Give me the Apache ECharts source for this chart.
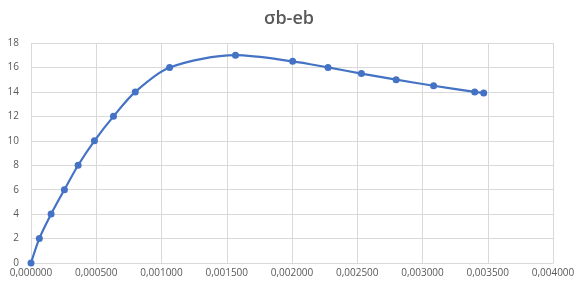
<!DOCTYPE html>
<html>
<head>
<meta charset="utf-8">
<script src="https://cdn.jsdelivr.net/npm/echarts@6/dist/echarts.min.js"></script>
<style>
  html, body { margin: 0; padding: 0; background: #fff; }
  #chart { width: 578px; height: 284px; }
</style>
</head>
<body>
<div id="chart"></div>
<script>
const strain = [0, 0.0000637, 0.000154, 0.000256, 0.000361, 0.000486, 0.000632, 0.000799, 0.001062,
  0.001567, 0.002005, 0.002276, 0.002532, 0.002798, 0.003085, 0.0034, 0.003469]
const stress = [0, 2, 4, 6, 8, 10, 12, 14, 16, 17, 16.5, 16, 15.5, 15, 14.5, 14, 13.9]

const chart = echarts.init(document.getElementById('chart'))
const labelColor = '#595959'
const gridColor = '#d9d9d9'

chart.setOption({
  animation: false,
  title: {
    text: 'σb-eb',
    left: 'center',
    top: 5,
    textStyle: { fontFamily: 'Open Sans', fontSize: 18, fontWeight: 600, color: labelColor },
  },
  grid: { left: 31, right: 25, top: 43, bottom: 21, containLabel: false },
  xAxis: {
    type: 'value',
    min: 0,
    max: 0.004,
    interval: 0.0005,
    axisLine: { show: true, lineStyle: { color: gridColor } },
    axisTick: { show: false },
    splitLine: { show: true, lineStyle: { color: gridColor } },
    axisLabel: {
      color: labelColor,
      fontFamily: 'Open Sans',
      fontSize: 10,
      margin: 5,
      formatter: v => v.toFixed(6).replace('.', ','),
    },
  },
  yAxis: {
    type: 'value',
    min: 0,
    max: 18,
    interval: 2,
    axisLine: { show: false },
    axisTick: { show: false },
    splitLine: { show: true, lineStyle: { color: gridColor } },
    axisLabel: { color: labelColor, fontFamily: 'Open Sans', fontSize: 10, margin: 12 },
  },
  series: [
    {
      type: 'line',
      data: strain.map((x, i) => [x, stress[i]]),
      smooth: 0.3,
      symbol: 'circle',
      symbolSize: 7,
      lineStyle: { color: '#4472C4', width: 2.2 },
      itemStyle: { color: '#4472C4' },
    },
  ],
})
</script>
</body>
</html>
